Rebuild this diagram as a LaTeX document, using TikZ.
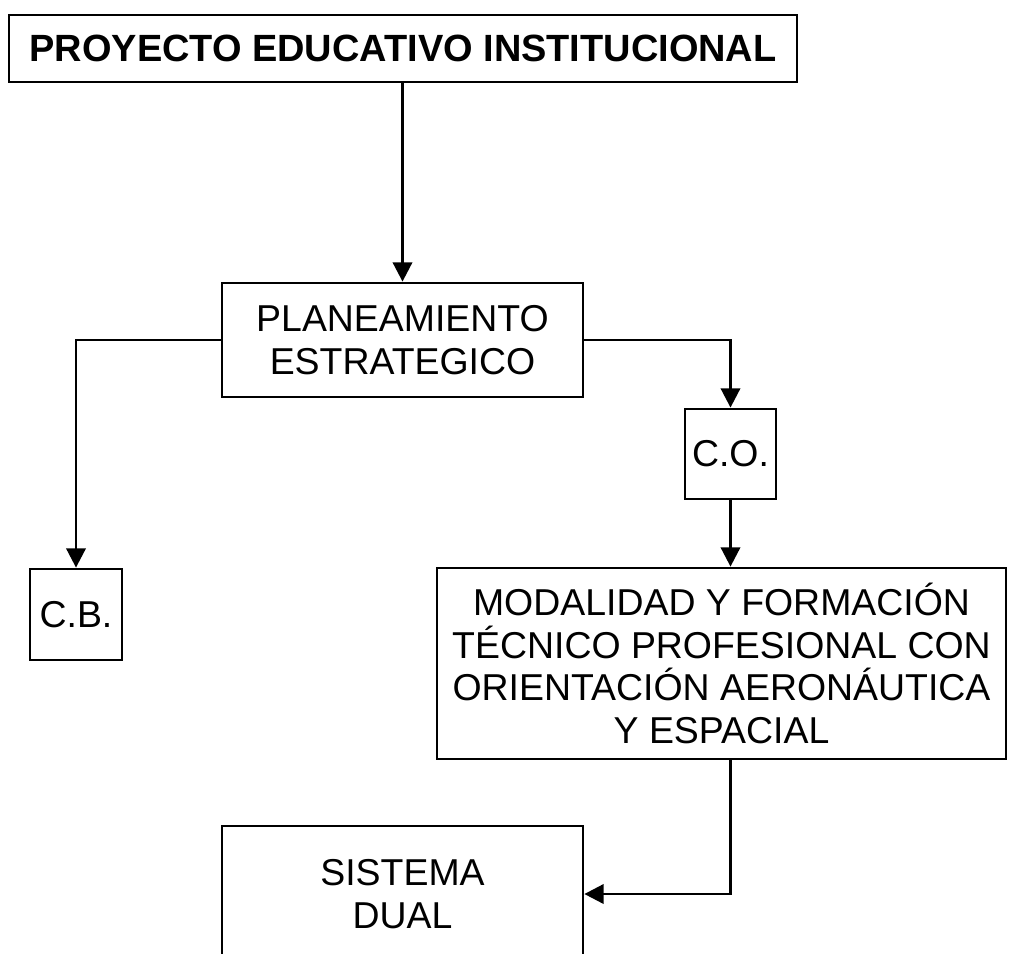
\documentclass[tikz,border=0pt]{standalone}
\usepackage{fontspec}
\setmainfont{Liberation Sans}
\usetikzlibrary{arrows.meta}

\begin{document}
\begin{tikzpicture}[x=0.02cm, y=-0.02cm,
		box_style/.style={rectangle,draw=black,line width=1.6pt,fill=white,align=center,
			inner sep=0pt,font=\fontsize{21.3}{24.2}\selectfont},
		title_style/.style={box_style,font=\bfseries\fontsize{21.6}{24}\selectfont},
		edge_style/.style={draw=black,line width=1.6pt,-{Triangle[length=11pt,width=11pt]}}]
		
		\clip (0,0) rectangle (1010,953);
		
		\node[title_style, minimum width=15.76cm, minimum height=1.34cm] (pei) at (403,48.5) {PROYECTO EDUCATIVO INSTITUCIONAL};
		\node[box_style, minimum width=7.22cm, minimum height=2.28cm] (plan) at (402.5,340) {PLANEAMIENTO\\ESTRATEGICO};
		\node[box_style, minimum width=1.84cm, minimum height=1.82cm] (cb) at (76,614.5) {C.B.};
		\node[box_style, minimum width=1.82cm, minimum height=1.8cm] (co) at (730.5,454) {C.O.};
		\node[box_style, minimum width=11.38cm, minimum height=3.82cm] (mod) at (721.5,663.5) {MODALIDAD Y FORMACIÓN\\TÉCNICO PROFESIONAL CON\\ORIENTACIÓN AERONÁUTICA\\Y ESPACIAL};
		\node[box_style, minimum width=7.22cm, minimum height=2.72cm] (sis) at (402.5,894) {SISTEMA\\DUAL};
		
		\draw[edge_style]  (pei.south -| plan) -- (plan.north);
		\draw[edge_style]  (plan.west) -| (cb.north);
		\draw[edge_style]  (plan.east) -| (co.north);
		\draw[edge_style]  (co.south) -- (co.south |- mod.north);
		\draw[edge_style]  (mod.south -| co) |- (sis.east);
		
\end{tikzpicture}
\end{document}
